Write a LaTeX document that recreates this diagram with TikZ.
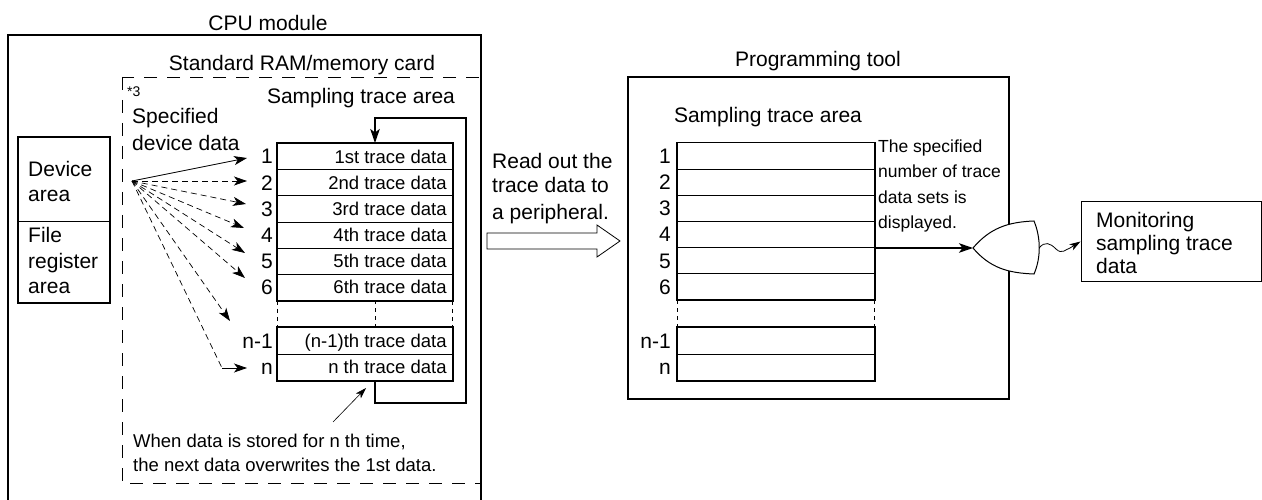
\documentclass[tikz,border=0pt]{standalone}
\usepackage{fontspec}
\setmainfont{Liberation Sans}
\usetikzlibrary{arrows.meta,calc}
\begin{document}
\begin{tikzpicture}[x=1pt,y=-1pt,
  big/.style={font=\fontsize{21}{25}\selectfont, inner sep=0pt},
  mid/.style={font=\fontsize{18.5}{22}\selectfont, inner sep=0pt},
  sml/.style={font=\fontsize{17.5}{21}\selectfont, inner sep=0pt},
  tiny/.style={font=\fontsize{14}{16}\selectfont, inner sep=0pt},
  thickln/.style={line width=1.8pt},
  thinln/.style={line width=0.8pt},
  cell/.style={draw, line width=0.8pt, minimum height=26.17pt, inner sep=0pt, anchor=north west},
  boxdash/.style={line width=0.9pt, dash pattern=on 13pt off 10pt},
  sepdash/.style={line width=0.8pt, dash pattern=on 4pt off 4pt},
  fandash/.style={line width=0.7pt, dash pattern=on 6pt off 4pt},
  tip/.style={-{Stealth[length=13pt,width=9pt,inset=3.5pt]}},
  bigtip/.style={-{Stealth[length=14pt,width=9.5pt,inset=3.5pt]}},
  smalltip/.style={-{Stealth[length=11pt,width=7pt,inset=3pt]}}
]
\useasboundingbox (0,0) rectangle (1262,500);

% ---------------- CPU module ----------------
\node[big, anchor=base] (cpulbl) at (268,31) {CPU module};
\draw[thickln] (8,510) -- (8,35) -- (481,35) -- (481,510);
\node[big, anchor=base] (ramlbl) at (302,71) {Standard RAM/memory card};
\draw[boxdash] (122,77) rectangle (481,483);
\node[tiny, anchor=base west] (star) at (127,97) {*3};
\node[big, anchor=base west] (spec1) at (132,124) {Specified};
\node[big, anchor=base west] (spec2) at (132,151) {device data};

% device / file register box
\node[minimum width=92pt, minimum height=84pt, inner sep=0pt] (dev) at (64,179) {};
\node[minimum width=92pt, minimum height=82pt, inner sep=0pt] (file) at (64,262) {};
\draw[thickln] (dev.north west) rectangle (file.south east);
\draw[thinln] (dev.south west) -- (dev.south east);
\node[big, anchor=base west] (dv1) at (28,177) {Device};
\node[big, anchor=base west] (dv2) at (28,202) {area};
\node[big, anchor=base west] (fr1) at (28,243) {File};
\node[big, anchor=base west] (fr2) at (28,268) {register};
\node[big, anchor=base west] (fr3) at (28,293) {area};

% CPU sampling trace area
\node[big, anchor=base] (stal) at (361,104) {Sampling trace area};
\foreach \i/\t in {1/1st trace data,2/2nd trace data,3/3rd trace data,4/4th trace data,5/5th trace data,6/6th trace data}{
  \node[cell, minimum width=175pt] (L\i) at (277,{143+(\i-1)*26.17}) {};
  \node[mid, anchor=base east] (LT\i) at ($(L\i.east)+(-6,6.6)$) {\t};
  \node[big, anchor=base east] (LN\i) at ($(L\i.west)+(-4,7.5)$) {\i};
}
\node[cell, minimum width=175pt, minimum height=26.5pt] (Ln1) at (277,327) {};
\node[cell, minimum width=175pt, minimum height=26.5pt] (Ln) at (277,353.5) {};
\node[mid, anchor=base east] (LTn1) at ($(Ln1.east)+(-6,6.6)$) {(n-1)th trace data};
\node[mid, anchor=base east] (LTn) at ($(Ln.east)+(-6,6.6)$) {n th trace data};
\node[big, anchor=base east] (LNn1) at ($(Ln1.west)+(-4,7.5)$) {n-1};
\node[big, anchor=base east] (LNn) at ($(Ln.west)+(-4,7.5)$) {n};
\draw[thickln] (L1.north west) rectangle (L6.south east);
\draw[thickln] (Ln1.north west) rectangle (Ln.south east);
\draw[sepdash] (L6.south west) -- (Ln1.north west);
\draw[sepdash] (L6.south east) -- (Ln1.north east);
\coordinate (midtop) at (375,300);
\coordinate (midbot) at (375,327);
\draw[sepdash] (midtop) -- (midbot);

% loop arrow
\coordinate (lpA) at (375,380);
\coordinate (lpB) at (375,403);
\coordinate (lpC) at (466,403);
\coordinate (lpD) at (466,118);
\coordinate (lpE) at (375,118);
\coordinate (lpF) at (375,143);
\draw[line width=1.6pt, bigtip] (lpA) -- (lpB) -- (lpC) -- (lpD) -- (lpE) -- (lpF);

% fan arrows
\coordinate (src) at (132,181);
\coordinate (a1) at (247,158);
\coordinate (a2) at (247,181);
\coordinate (a3) at (246,204);
\coordinate (a4) at (244,228);
\coordinate (a5) at (245,253);
\coordinate (a6) at (245,278);
\coordinate (a7) at (230,321);
\coordinate (anb) at (222,368);
\coordinate (an) at (247,368);
\draw[line width=0.8pt, tip] (src) -- (a1);
\foreach \k in {a2,a3,a4,a5,a6,a7}{
  \draw[fandash, tip] (src) -- (\k);
}
\draw[fandash] (src) -- (anb);
\draw[line width=0.8pt, tip] (anb) -- (an);

% pointer note
\coordinate (pfrom) at (333,422);
\coordinate (pto) at (366,388);
\draw[line width=0.6pt, smalltip] (pfrom) -- (pto);
\node[mid, anchor=base west] (note1) at (133,447) {When data is stored for n th time,};
\node[mid, anchor=base west] (note2) at (133,471) {the next data overwrites the 1st data.};

% ---------------- hollow transfer arrow ----------------
\draw[thinln, fill=white] (487,233) -- (597,233) -- (597,225) -- (620,241) -- (597,257) -- (597,249) -- (487,249) -- cycle;
\node[big, anchor=base west] (rd1) at (492,168) {Read out the};
\node[big, anchor=base west] (rd2) at (492,193) {trace data to};
\node[big, anchor=base west] (rd3) at (492,219) {a peripheral.};

% ---------------- Programming tool ----------------
\node[big, anchor=base] (pglbl) at (818,67) {Programming tool};
\node[draw, thickln, minimum width=381pt, minimum height=322pt, inner sep=0pt] (prog) at (818.5,238) {};
\node[big, anchor=base] (sta2) at (768,123) {Sampling trace area};
\foreach \i in {1,...,6}{
  \node[cell, minimum width=197pt] (R\i) at (677,{142.5+(\i-1)*26.17}) {};
  \node[big, anchor=base east] (RN\i) at ($(R\i.west)+(-6,7.5)$) {\i};
}
\node[cell, minimum width=197pt, minimum height=26.5pt] (Rn1) at (677,327) {};
\node[cell, minimum width=197pt, minimum height=26.5pt] (Rn) at (677,353.5) {};
\node[big, anchor=base east] (RNn1) at ($(Rn1.west)+(-6,7.5)$) {n-1};
\node[big, anchor=base east] (RNn) at ($(Rn.west)+(-6,7.5)$) {n};
\draw[thickln] (R1.north west) rectangle (R6.south east);
\draw[thickln] (Rn1.north west) rectangle (Rn.south east);
\draw[sepdash] (R6.south west) -- (Rn1.north west);
\draw[sepdash] (R6.south east) -- (Rn1.north east);

\node[sml, anchor=base west] (ds1) at (878,153) {The specified};
\node[sml, anchor=base west] (ds2) at (878,178) {number of trace};
\node[sml, anchor=base west] (ds3) at (878,204) {data sets is};
\node[sml, anchor=base west] (ds4) at (878,229) {displayed.};

% display shape
\coordinate (disp) at (973,248);
\coordinate (dispR) at (1039,248);
\draw[line width=1pt, fill=white] (disp) .. controls (990,228) and (1008,222) .. (1034,221)
  .. controls (1041,238) and (1041,258) .. (1034,274)
  .. controls (1008,273) and (990,268) .. (disp) -- cycle;
\draw[line width=1.6pt, bigtip] (R4.south east) -- (disp);

% monitoring box
\node[draw, line width=1pt, minimum width=180pt, minimum height=79pt, inner sep=0pt] (mon) at (1171,241.5) {};
\node[big, anchor=base west] (m1) at (1096,228) {Monitoring};
\node[big, anchor=base west] (m2) at (1096,250) {sampling trace};
\node[big, anchor=base west] (m3) at (1096,273) {data};
\draw[line width=0.8pt, smalltip] (dispR) .. controls (1045,241) and (1050,243) .. (1056,249)
  .. controls (1062,255) and (1066,249) .. (1070,248) -- (mon.west);
\end{tikzpicture}
\end{document}
